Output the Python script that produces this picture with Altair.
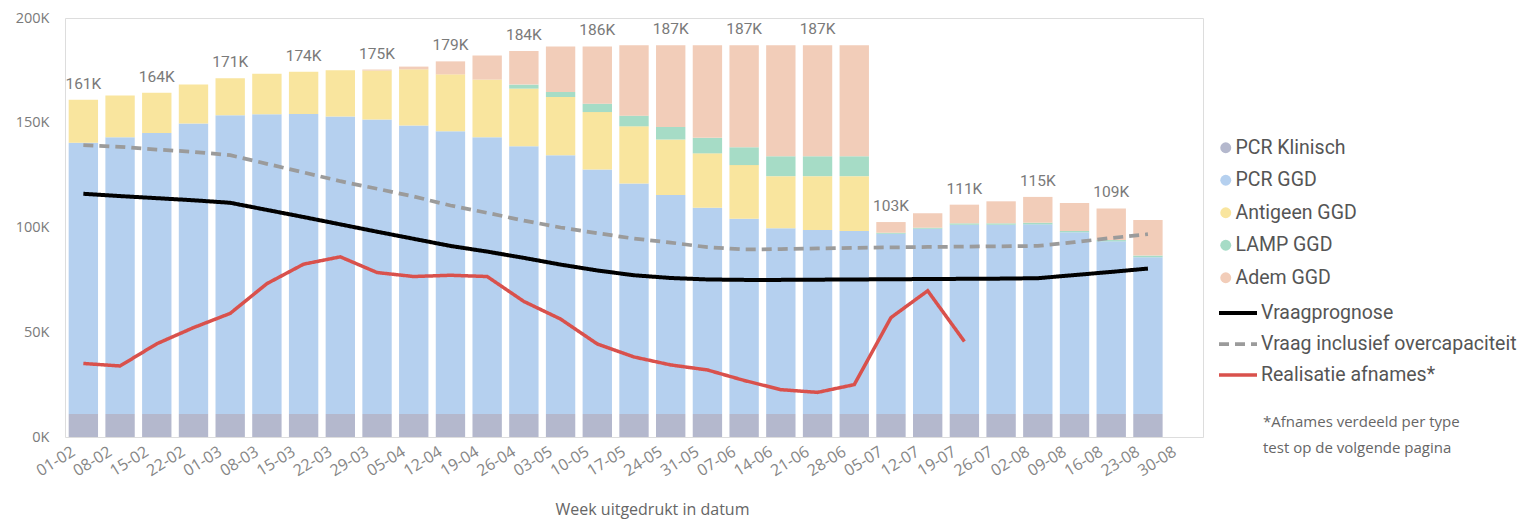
import altair as alt
import pandas as pd

weeks = ["01-02", "08-02", "15-02", "22-02", "01-03", "08-03", "15-03", "22-03", "29-03", "05-04",
         "12-04", "19-04", "26-04", "03-05", "10-05", "17-05", "24-05", "31-05", "07-06", "14-06",
         "21-06", "28-06", "05-07", "12-07", "19-07", "26-07", "02-08", "09-08", "16-08", "23-08", "30-08"]

# values in thousands (K), one per week with data (30 weeks)
pcr_klinisch = [11, 11, 11, 11, 11, 11, 11, 11, 11, 11, 11, 11, 11, 11, 11,
                11, 11, 11, 11, 11, 11, 11, 11, 11, 11, 11, 11, 11, 11, 11]
pcr_ggd = [129.4, 132.1, 134.1, 138.6, 142.6, 143.0, 143.2, 142.0, 140.5, 137.7,
           135.0, 132.1, 127.8, 123.5, 116.7, 110.0, 104.5, 98.4, 93.2, 88.6,
           87.8, 87.3, 86.0, 88.4, 90.3, 90.3, 90.5, 86.7, 82.4, 74.8]
antigeen = [20.6, 19.9, 19.2, 18.6, 17.7, 19.4, 20.2, 22.1, 23.4, 26.8,
            27.1, 27.5, 27.5, 27.8, 27.4, 27.3, 26.5, 26.0, 25.6, 24.9,
            25.7, 26.2, 0, 0, 0, 0, 0, 0, 0, 0]
lamp = [0, 0, 0, 0, 0, 0, 0, 0, 0, 0,
        0, 0, 1.9, 2.4, 4.0, 5.1, 6.0, 7.4, 8.5, 9.5,
        9.5, 9.5, 0.5, 0.5, 0.7, 0.7, 0.8, 0.6, 0.6, 0.8]
adem = [0, 0, 0, 0, 0, 0, 0, 0, 0.5, 1.3,
        6.2, 11.5, 16.1, 21.7, 27.3, 33.6, 39.0, 44.2, 48.7, 53.0,
        53.0, 53.0, 5.1, 6.9, 8.9, 10.5, 12.3, 13.4, 15.1, 17.0]

vraagprognose = [116.1, 115.0, 114.0, 113.0, 111.8, 108.4, 105.0, 101.5, 98.0, 94.6,
                 91.2, 88.5, 85.5, 82.3, 79.5, 77.2, 75.9, 75.2, 75.0, 75.0,
                 75.1, 75.2, 75.3, 75.4, 75.5, 75.6, 75.8, 77.3, 78.8, 80.4]
vraag_overcap = [139.3, 138.5, 137.2, 136.1, 134.5, 130.4, 126.3, 122.1, 118.5, 114.8,
                 110.5, 107.0, 103.3, 100.0, 97.3, 94.7, 92.8, 90.6, 89.5, 89.7,
                 90.0, 90.3, 90.5, 90.7, 90.9, 91.0, 91.2, 93.0, 95.0, 96.8]
realisatie = [35.1, 33.9, 44.5, 52.2, 59.0, 73.2, 82.5, 86.0, 78.5, 76.6,
              77.2, 76.6, 64.7, 56.3, 44.4, 38.2, 34.4, 32.0, 27.0, 22.6,
              21.3, 25.0, 57.0, 69.8, 45.6]

bar_types = ["PCR Klinisch", "PCR GGD", "Antigeen GGD", "LAMP GGD", "Adem GGD"]
bar_colors = ["#b4b8cd", "#b5d0ef", "#f9e59e", "#a6dcc6", "#f2cdb9"]
line_names = ["Vraagprognose", "Vraag inclusief overcapaciteit", "Realisatie afnames*"]
line_colors = ["#000000", "#9b9b9b", "#d9514c"]
note = "*Afnames verdeeld per type\ntest op de volgende pagina"

series = [pcr_klinisch, pcr_ggd, antigeen, lamp, adem]
rows = []
for k, (name, vals) in enumerate(zip(bar_types, series)):
    for i, v in enumerate(vals):
        rows.append({"week": weeks[i], "type": name, "value": v, "order": k})
bars_df = pd.DataFrame(rows)

n = len(pcr_ggd)
totals = [sum(s[i] for s in series) for i in range(n)]
labels_df = pd.DataFrame({"week": weeks[:n], "total": totals,
                          "label": [f"{int(t + 0.5)}K" for t in totals]}).iloc[::2]

lrows = []
for name, vals in zip(line_names, [vraagprognose, vraag_overcap, realisatie]):
    for i, v in enumerate(vals):
        lrows.append({"week": weeks[i], "serie": name, "value": v, "idx": i})
lines_df = pd.DataFrame(lrows)

xenc = alt.X("week:N", sort=weeks,
             scale=alt.Scale(domain=weeks, paddingInner=0.2, paddingOuter=0.1),
             axis=alt.Axis(title="Week uitgedrukt in datum", labelAngle=-32, labelAlign="right",
                           labelBaseline="top", labelFontSize=16, labelColor="#858585",
                           labelFont="Open Sans", labelPadding=6, labelOffset=-14,
                           ticks=False, domain=False,
                           titleFont="Open Sans", titleFontSize=16, titleColor="#666666",
                           titleFontWeight="normal", titleX=587, titleY=72,
                           titleBaseline="middle"))
yscale = alt.Scale(domain=[0, 200], nice=False)
yaxis = alt.Axis(title=None, values=[0, 50, 100, 150, 200], labelExpr="datum.value + 'K'",
                 grid=False, ticks=False, domain=False, labelFontSize=14.5, labelColor="#7a7a7a",
                 labelFont="Open Sans", labelPadding=16)

bars = alt.Chart(bars_df).mark_bar().encode(
    x=xenc,
    y=alt.Y("value:Q", stack="zero", scale=yscale, axis=yaxis),
    color=alt.Color("type:N", scale=alt.Scale(domain=bar_types, range=bar_colors),
                    legend=alt.Legend(title=None, orient="none", legendX=1151, legendY=120,
                                      symbolType="circle", symbolSize=120, labelFontSize=19.5,
                                      labelFont="Roboto", labelColor="#555555", rowPadding=11.5,
                                      padding=0, labelOffset=0, labelLimit=0)),
    order=alt.Order("order:Q"),
)

labels = alt.Chart(labels_df).mark_text(baseline="bottom", dy=-8, fontSize=15.5, color="#7a7a7a",
                                        font="Roboto").encode(
    x=alt.X("week:N", sort=weeks),
    y=alt.Y("total:Q"),
    text="label:N",
)

leg = dict(title=None, orient="none", legendX=1152, legendY=274, symbolType="stroke",
           symbolSize=1444, labelFontSize=19.5, labelFont="Roboto", labelColor="#555555",
           rowPadding=-2, padding=0, labelOffset=2, labelLimit=0)
lines = alt.Chart(lines_df).mark_line().encode(
    x=alt.X("week:N", sort=weeks),
    y=alt.Y("value:Q"),
    color=alt.Color("serie:N", scale=alt.Scale(domain=line_names, range=line_colors),
                    legend=alt.Legend(**leg)),
    strokeDash=alt.StrokeDash("serie:N", scale=alt.Scale(domain=line_names,
                                                         range=[[1, 0], [10, 6], [1, 0]]),
                              legend=alt.Legend(**leg)),
    strokeWidth=alt.StrokeWidth("serie:N", scale=alt.Scale(domain=line_names, range=[4, 3.5, 3]),
                                legend=alt.Legend(**leg)),
    order=alt.Order("idx:Q"),
)

footnote = alt.Chart(pd.DataFrame({"t": [note]})).mark_text(
    align="left", baseline="middle", lineBreak="\n", lineHeight=26, fontSize=15,
    color="#666666", font="Open Sans").encode(
    x=alt.value(1198), y=alt.value(404), text="t:N")

chart = alt.layer(bars, labels, lines, footnote).resolve_scale(
    color="independent", strokeDash="independent", strokeWidth="independent"
).properties(
    width=1138, height=419,
    autosize=alt.AutoSizeParams(type="none"),
    padding={"left": 57, "top": 10, "right": 317, "bottom": 82},
).configure_view(stroke=None).configure(background="white")

chart.save("out.html", embed_options={"renderer": "svg", "actions": False})
